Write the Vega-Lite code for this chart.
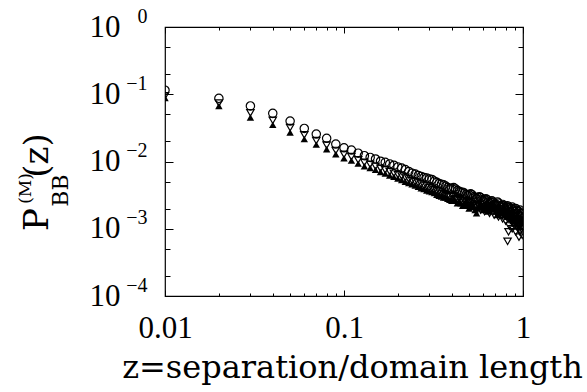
{
 "$schema": "https://vega.github.io/schema/vega-lite/v6.json",
 "width": 358, "height": 269,
 "autosize": {"type": "none"},
 "padding": {"left": 165, "top": 27, "right": 64, "bottom": 96},
 "background": "white",
 "config": {
  "view": {"stroke": "black", "strokeWidth": 1.2},
  "style": {"guide-label": {"font": "Liberation Serif", "fill": "black"}, "guide-title": {"font": "DejaVu Serif", "fill": "black", "fontWeight": "normal"}},
  "axis": {"domain": false, "grid": false, "labelFlush": false, "labelOverlap": false, "labelBound": false,
   "tickColor": "black", "tickWidth": 1, "labelColor": "black", "titleColor": "black",
   "labelFont": "Liberation Serif", "titleFont": "DejaVu Serif", "titleFontWeight": "normal", "titlePadding": 0}
 },
 "datasets": {
  "circles": [
   {"z":0.01,"p":0.115},{"z":0.02,"p":0.087},{"z":0.03,"p":0.067},{"z":0.04,"p":0.052},{"z":0.05,"p":0.040},
   {"z":0.06,"p":0.031},{"z":0.07,"p":0.0256},{"z":0.08,"p":0.0221},{"z":0.09,"p":0.0182},{"z":0.10,"p":0.0160},
   {"z":0.11,"p":0.0148},{"z":0.12,"p":0.0133},{"z":0.13,"p":0.0122},{"z":0.14,"p":0.0115},{"z":0.15,"p":0.0109},
   {"z":0.16,"p":0.0101},{"z":0.17,"p":0.0097},{"z":0.18,"p":0.0092},{"z":0.19,"p":0.0088},{"z":0.20,"p":0.0083},
   {"z":0.21,"p":0.0080},{"z":0.22,"p":0.0076},{"z":0.23,"p":0.0071},{"z":0.24,"p":0.0067},{"z":0.25,"p":0.0065},
   {"z":0.26,"p":0.0062},{"z":0.27,"p":0.0060},{"z":0.28,"p":0.0058},{"z":0.29,"p":0.0057},{"z":0.30,"p":0.0055},
   {"z":0.31,"p":0.0054},{"z":0.32,"p":0.0051},{"z":0.33,"p":0.0049},{"z":0.34,"p":0.0047},{"z":0.35,"p":0.0046},
   {"z":0.36,"p":0.0045},{"z":0.37,"p":0.0043},{"z":0.38,"p":0.0041},{"z":0.39,"p":0.0040},{"z":0.40,"p":0.0040},
   {"z":0.41,"p":0.0041},{"z":0.42,"p":0.0039},{"z":0.43,"p":0.0037},{"z":0.44,"p":0.0036},{"z":0.45,"p":0.0035},
   {"z":0.46,"p":0.0035},{"z":0.47,"p":0.0034},{"z":0.48,"p":0.0032},{"z":0.49,"p":0.0031},{"z":0.50,"p":0.0032},
   {"z":0.51,"p":0.0033},{"z":0.52,"p":0.0032},{"z":0.53,"p":0.0030},{"z":0.54,"p":0.0029},{"z":0.55,"p":0.0028},
   {"z":0.56,"p":0.0029},{"z":0.57,"p":0.0030},{"z":0.58,"p":0.0029},{"z":0.59,"p":0.0027},{"z":0.60,"p":0.0026},
   {"z":0.61,"p":0.0027},{"z":0.62,"p":0.0028},{"z":0.63,"p":0.0027},{"z":0.64,"p":0.0025},{"z":0.65,"p":0.0024},
   {"z":0.66,"p":0.0025},{"z":0.67,"p":0.0026},{"z":0.68,"p":0.0025},{"z":0.69,"p":0.0023},{"z":0.70,"p":0.0022},
   {"z":0.71,"p":0.0023},{"z":0.72,"p":0.0025},{"z":0.73,"p":0.0024},{"z":0.74,"p":0.0022},{"z":0.75,"p":0.0021},
   {"z":0.76,"p":0.0022},{"z":0.77,"p":0.0023},{"z":0.78,"p":0.0022},{"z":0.79,"p":0.0020},{"z":0.80,"p":0.0019},
   {"z":0.81,"p":0.0021},{"z":0.82,"p":0.0022},{"z":0.83,"p":0.0021},{"z":0.84,"p":0.0019},{"z":0.85,"p":0.0018},
   {"z":0.86,"p":0.0020},{"z":0.87,"p":0.0021},{"z":0.88,"p":0.0019},{"z":0.89,"p":0.0017},{"z":0.90,"p":0.0018},
   {"z":0.91,"p":0.0020},{"z":0.92,"p":0.0019},{"z":0.93,"p":0.0017},{"z":0.94,"p":0.0016},{"z":0.95,"p":0.0018},
   {"z":0.96,"p":0.0019},{"z":0.97,"p":0.0017},{"z":0.98,"p":0.0015},{"z":0.99,"p":0.0016},{"z":1.00,"p":0.0017}
  ],
  "down": [
   {"z":0.01,"p":0.095},{"z":0.02,"p":0.074},{"z":0.03,"p":0.053},{"z":0.04,"p":0.041},{"z":0.05,"p":0.032},
   {"z":0.06,"p":0.025},{"z":0.07,"p":0.0205},{"z":0.08,"p":0.0175},{"z":0.09,"p":0.0146},{"z":0.10,"p":0.0128},
   {"z":0.11,"p":0.0118},{"z":0.12,"p":0.0106},{"z":0.13,"p":0.0097},{"z":0.14,"p":0.0091},{"z":0.15,"p":0.0085},
   {"z":0.16,"p":0.0079},{"z":0.17,"p":0.0075},{"z":0.18,"p":0.0071},{"z":0.19,"p":0.0067},{"z":0.20,"p":0.0064},
   {"z":0.21,"p":0.0061},{"z":0.22,"p":0.0058},{"z":0.23,"p":0.0055},{"z":0.24,"p":0.0052},{"z":0.25,"p":0.0050},
   {"z":0.26,"p":0.0048},{"z":0.27,"p":0.0046},{"z":0.28,"p":0.0044},{"z":0.29,"p":0.0043},{"z":0.30,"p":0.0041},
   {"z":0.31,"p":0.0040},{"z":0.32,"p":0.0038},{"z":0.33,"p":0.0037},{"z":0.34,"p":0.0036},{"z":0.35,"p":0.0034},
   {"z":0.36,"p":0.0033},{"z":0.37,"p":0.0032},{"z":0.38,"p":0.0031},{"z":0.39,"p":0.0030},{"z":0.40,"p":0.0031},
   {"z":0.41,"p":0.0030},{"z":0.42,"p":0.0028},{"z":0.43,"p":0.0027},{"z":0.44,"p":0.0028},{"z":0.45,"p":0.0026},
   {"z":0.46,"p":0.0025},{"z":0.47,"p":0.0026},{"z":0.48,"p":0.0024},{"z":0.49,"p":0.0023},{"z":0.50,"p":0.0025},
   {"z":0.51,"p":0.0024},{"z":0.52,"p":0.0022},{"z":0.53,"p":0.0023},{"z":0.54,"p":0.0021},{"z":0.55,"p":0.0022},
   {"z":0.56,"p":0.0023},{"z":0.57,"p":0.0021},{"z":0.58,"p":0.0019},{"z":0.59,"p":0.0021},{"z":0.60,"p":0.0020},
   {"z":0.61,"p":0.0018},{"z":0.62,"p":0.0021},{"z":0.63,"p":0.0022},{"z":0.64,"p":0.0019},{"z":0.65,"p":0.0017},
   {"z":0.66,"p":0.0019},{"z":0.67,"p":0.0020},{"z":0.68,"p":0.0018},{"z":0.69,"p":0.0016},{"z":0.70,"p":0.0018},
   {"z":0.71,"p":0.0019},{"z":0.72,"p":0.0017},{"z":0.73,"p":0.0015},{"z":0.74,"p":0.0017},{"z":0.75,"p":0.0018},
   {"z":0.76,"p":0.0016},{"z":0.77,"p":0.0014},{"z":0.78,"p":0.0017},{"z":0.79,"p":0.0016},{"z":0.80,"p":0.0013},
   {"z":0.81,"p":0.0015},{"z":0.82,"p":0.00065},{"z":0.83,"p":0.0009},{"z":0.84,"p":0.0011},{"z":0.85,"p":0.0014},
   {"z":0.86,"p":0.0013},{"z":0.87,"p":0.0010},{"z":0.88,"p":0.0012},{"z":0.89,"p":0.0014},{"z":0.90,"p":0.0011},
   {"z":0.91,"p":0.0009},{"z":0.92,"p":0.0012},{"z":0.93,"p":0.0013},{"z":0.94,"p":0.0010},{"z":0.95,"p":0.00075},
   {"z":0.96,"p":0.0009},{"z":0.97,"p":0.0012},{"z":0.98,"p":0.0010},{"z":0.99,"p":0.0008},{"z":1.00,"p":0.0011}
  ],
  "up": [
   {"z":0.01,"p":0.088},{"z":0.02,"p":0.067},{"z":0.03,"p":0.045},{"z":0.04,"p":0.035},{"z":0.05,"p":0.027},
   {"z":0.06,"p":0.0215},{"z":0.07,"p":0.0178},{"z":0.08,"p":0.0152},{"z":0.09,"p":0.0128},{"z":0.10,"p":0.0112},
   {"z":0.11,"p":0.0103},{"z":0.12,"p":0.0093},{"z":0.13,"p":0.0085},{"z":0.14,"p":0.0080},{"z":0.15,"p":0.0075},
   {"z":0.16,"p":0.0070},{"z":0.17,"p":0.0066},{"z":0.18,"p":0.0062},{"z":0.19,"p":0.0059},{"z":0.20,"p":0.0056},
   {"z":0.21,"p":0.0053},{"z":0.22,"p":0.0050},{"z":0.23,"p":0.0048},{"z":0.24,"p":0.0046},{"z":0.25,"p":0.0044},
   {"z":0.26,"p":0.0042},{"z":0.27,"p":0.0040},{"z":0.28,"p":0.0039},{"z":0.29,"p":0.0037},{"z":0.30,"p":0.0036},
   {"z":0.31,"p":0.0035},{"z":0.32,"p":0.0034},{"z":0.33,"p":0.0032},{"z":0.34,"p":0.0031},{"z":0.35,"p":0.0030},
   {"z":0.36,"p":0.0029},{"z":0.37,"p":0.0029},{"z":0.38,"p":0.0028},{"z":0.39,"p":0.0027},{"z":0.40,"p":0.0026},
   {"z":0.41,"p":0.0027},{"z":0.42,"p":0.0026},{"z":0.43,"p":0.0024},{"z":0.44,"p":0.0025},{"z":0.45,"p":0.0024},
   {"z":0.46,"p":0.0022},{"z":0.47,"p":0.0023},{"z":0.48,"p":0.0024},{"z":0.49,"p":0.0022},{"z":0.50,"p":0.0020},
   {"z":0.51,"p":0.0022},{"z":0.52,"p":0.0023},{"z":0.53,"p":0.0021},{"z":0.54,"p":0.0019},{"z":0.55,"p":0.0017},
   {"z":0.56,"p":0.0020},{"z":0.57,"p":0.0022},{"z":0.58,"p":0.0023},{"z":0.59,"p":0.0021},{"z":0.60,"p":0.0019},
   {"z":0.61,"p":0.0021},{"z":0.62,"p":0.0023},{"z":0.63,"p":0.0020},{"z":0.64,"p":0.0018},{"z":0.65,"p":0.0021},
   {"z":0.66,"p":0.0024},{"z":0.67,"p":0.0022},{"z":0.68,"p":0.0020},{"z":0.69,"p":0.0023},{"z":0.70,"p":0.0021},
   {"z":0.71,"p":0.0018},{"z":0.72,"p":0.0016},{"z":0.73,"p":0.0019},{"z":0.74,"p":0.0021},{"z":0.75,"p":0.0019},
   {"z":0.76,"p":0.0017},{"z":0.77,"p":0.0020},{"z":0.78,"p":0.0018},{"z":0.79,"p":0.0016},{"z":0.80,"p":0.0019},
   {"z":0.81,"p":0.0017},{"z":0.82,"p":0.0015},{"z":0.83,"p":0.0018},{"z":0.84,"p":0.0016},{"z":0.85,"p":0.0014},
   {"z":0.86,"p":0.0017},{"z":0.87,"p":0.0015},{"z":0.88,"p":0.0013},{"z":0.89,"p":0.0016},{"z":0.90,"p":0.0014},
   {"z":0.91,"p":0.0012},{"z":0.92,"p":0.0015},{"z":0.93,"p":0.0016},{"z":0.94,"p":0.0013},{"z":0.95,"p":0.0011},
   {"z":0.96,"p":0.0014},{"z":0.97,"p":0.0015},{"z":0.98,"p":0.0012},{"z":0.99,"p":0.0013},{"z":1.00,"p":0.0014}
  ]
 },
 "layer": [
  {
   "data": {"name": "up"},
   "mark": {"type": "point", "shape": "triangle-up", "filled": true, "color": "black", "size": 55, "opacity": 1, "clip": true},
   "encoding": {
    "x": {"field": "z", "type": "quantitative", "scale": {"type": "log", "domain": [0.01, 1], "nice": false},
     "axis": {"orient": "bottom", "title": "z=separation/domain length", "titleFont": "DejaVu Serif", "titleFontWeight": "normal", "titleFontSize": 32, "titleX": 187, "titleY": 81,
      "titleAlign": "center", "titleBaseline": "alphabetic", "titleAngle": 0,
      "values": [0.01,0.02,0.03,0.04,0.05,0.06,0.07,0.08,0.09,0.1,0.2,0.3,0.4,0.5,0.6,0.7,0.8,0.9,1],
      "labelExpr": "datum.value == 0.01 ? '0.01' : datum.value == 0.1 ? '0.1' : datum.value == 1 ? '1' : ''",
      "labelFont": "Liberation Serif", "labelFontSize": 31, "labelBaseline": "alphabetic", "labelAlign": "center", "labelPadding": 47,
      "tickSize": {"condition": {"test": "indexof([0.01,0.1,1], datum.value) >= 0", "value": -6}, "value": -3}}},
    "y": {"field": "p", "type": "quantitative", "scale": {"type": "log", "domain": [0.0001, 1], "nice": false},
     "axis": {"orient": "left", "title": "P", "titleFont": "DejaVu Serif", "titleFontWeight": "normal", "titleFontSize": 34, "titleX": -118, "titleY": 192, "titleAngle": 270,
      "titleAlign": "center", "titleBaseline": "alphabetic",
      "values": [1,0.5,0.2,0.1,0.05,0.02,0.01,0.005,0.002,0.001,0.0005,0.0002,0.0001],
      "labelExpr": "indexof([1,0.1,0.01,0.001,0.0001], datum.value) >= 0 ? '10' : ''",
      "labelFont": "Liberation Serif", "labelFontSize": 31, "labelBaseline": "middle", "labelAlign": "right", "labelPadding": 53,
      "tickSize": {"condition": {"test": "indexof([1,0.1,0.01,0.001,0.0001], datum.value) >= 0", "value": -8}, "value": -5}}}
   }
  },
  {
   "data": {"name": "down"},
   "mark": {"type": "point", "shape": "triangle-down", "filled": false, "color": "black", "size": 55, "strokeWidth": 1.2, "opacity": 1, "clip": true},
   "encoding": {
    "x": {"field": "z", "type": "quantitative", "scale": {"type": "log", "domain": [0.01, 1], "nice": false},
     "axis": {"orient": "top", "title": null, "labels": false,
      "values": [0.01,0.02,0.03,0.04,0.05,0.06,0.07,0.08,0.09,0.1,0.2,0.3,0.4,0.5,0.6,0.7,0.8,0.9,1],
      "tickSize": {"condition": {"test": "indexof([0.01,0.1,1], datum.value) >= 0", "value": -6}, "value": -3}}},
    "y": {"field": "p", "type": "quantitative", "scale": {"type": "log", "domain": [0.0001, 1], "nice": false},
     "axis": {"orient": "right", "title": null, "labels": false,
      "values": [1,0.5,0.2,0.1,0.05,0.02,0.01,0.005,0.002,0.001,0.0005,0.0002,0.0001],
      "tickSize": {"condition": {"test": "indexof([1,0.1,0.01,0.001,0.0001], datum.value) >= 0", "value": -8}, "value": -5}}}
   }
  },
  {
   "data": {"name": "circles"},
   "mark": {"type": "point", "shape": "circle", "filled": false, "color": "black", "size": 70, "strokeWidth": 1.2, "opacity": 1, "clip": true},
   "encoding": {
    "x": {"field": "z", "type": "quantitative", "scale": {"type": "log", "domain": [0.01, 1], "nice": false}, "axis": null},
    "y": {"field": "p", "type": "quantitative", "scale": {"type": "log", "domain": [0.0001, 1], "nice": false},
     "axis": {"orient": "left", "title": "(z)", "titleFont": "DejaVu Serif", "titleFontWeight": "normal", "titleFontSize": 34, "titleX": -118, "titleY": 128, "titleAngle": 270,
      "titleAlign": "center", "titleBaseline": "alphabetic", "ticks": false,
      "values": [1,0.1,0.01,0.001,0.0001],
      "labelExpr": "datum.value == 1 ? '0' : datum.value == 0.1 ? '−1' : datum.value == 0.01 ? '−2' : datum.value == 0.001 ? '−3' : '−4'",
      "labelFont": "Liberation Serif", "labelFontSize": 20, "labelBaseline": "alphabetic", "labelAlign": "right", "labelPadding": 18, "labelOffset": -5}}
   }
  },
  {
   "data": {"name": "up"},
   "transform": [{"filter": "false"}],
   "mark": {"type": "point", "opacity": 0},
   "encoding": {
    "x": {"field": "z", "type": "quantitative", "scale": {"type": "log", "domain": [0.01, 1], "nice": false}, "axis": null},
    "y": {"field": "p", "type": "quantitative", "scale": {"type": "log", "domain": [0.0001, 1], "nice": false},
     "axis": {"orient": "left", "title": "(M)", "titleFont": "DejaVu Serif", "titleFontWeight": "normal", "titleFontSize": 17, "titleX": -135, "titleY": 161, "titleAngle": 270,
      "titleAlign": "center", "titleBaseline": "alphabetic", "ticks": false, "labels": false}}
   }
  },
  {
   "data": {"name": "up"},
   "transform": [{"filter": "false"}],
   "mark": {"type": "point", "opacity": 0},
   "encoding": {
    "x": {"field": "z", "type": "quantitative", "scale": {"type": "log", "domain": [0.01, 1], "nice": false}, "axis": null},
    "y": {"field": "p", "type": "quantitative", "scale": {"type": "log", "domain": [0.0001, 1], "nice": false},
     "axis": {"orient": "left", "title": "BB", "titleFont": "DejaVu Serif", "titleFontWeight": "normal", "titleFontSize": 22, "titleX": -98, "titleY": 163, "titleAngle": 270,
      "titleAlign": "center", "titleBaseline": "alphabetic", "ticks": false, "labels": false}}
   }
  }
 ],
 "resolve": {"axis": {"x": "independent", "y": "independent"}}
}
